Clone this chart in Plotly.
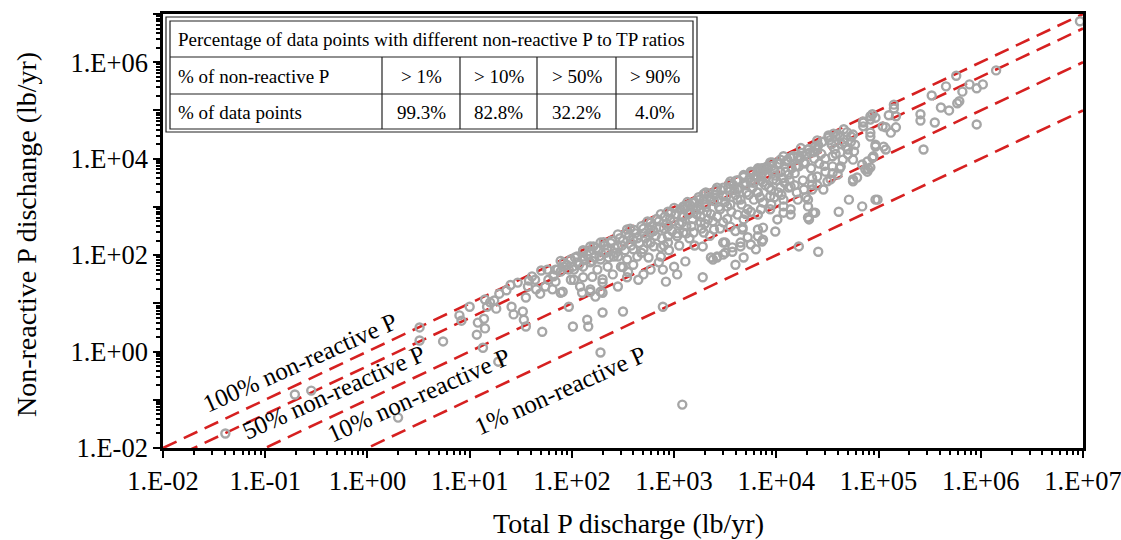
import plotly.graph_objects as go
import numpy as np

# ---------------- data (log10 of lb/yr) ----------------
log_total_p = [
    -1.39, -0.71, -0.55, 0.30, 0.51, 0.51, 0.74, 0.90, 0.92, 1.00, 1.08, 1.14, 1.07, 1.15, 1.13,
    1.15, 1.17, 1.20, 1.24, 1.26, 1.29, 1.36, 1.40, 1.47, 1.41, 1.43, 1.52, 1.53, 1.55, 1.55,
    1.57, 1.58, 1.64, 1.69, 1.71, 1.70, 1.76, 1.77, 1.81, 1.82, 1.89, 1.91, 1.28, 1.97, 2.01,
    2.01, 2.02, 2.05, 1.65, 1.61, 1.74,
    1.84, 1.89, 2.15, 2.16, 2.28, 2.30, 2.30, 2.50, 2.89, 3.08, 2.08, 2.10, 2.18, 2.23, 3.28,
    3.38, 3.42, 2.87, 2.92, 3.03, 2.65, 2.11, 2.21, 2.31, 2.54, 2.74, 2.94, 3.09, 3.31,
    4.94, 4.85, 4.92, 4.97, 4.75, 4.77, 4.66, 4.51, 4.58, 4.70, 4.75, 4.65, 4.55, 4.90, 4.84,
    4.79, 4.75, 4.71, 4.97, 4.84, 4.61, 4.38, 4.32, 4.41, 4.22, 3.99, 3.86, 3.80, 3.68, 3.60,
    3.36, 3.50, 3.57, 3.65, 3.50, 3.67, 3.82, 4.07, 4.14, 4.02, 4.12, 4.31, 4.29, 4.35, 4.50,
    4.48, 4.55, 4.40, 4.36, 4.31, 4.21, 4.12, 4.22, 3.96, 3.86, 3.83, 3.75,
    6.97, 6.15, 5.76, 5.66, 5.52, 5.61, 5.69, 5.77, 5.79, 5.82, 5.89, 5.96, 6.02, 5.96, 5.55,
    5.41, 5.41, 5.44, 5.15, 5.15, 5.10, 5.17, 5.12, 5.07, 4.97, 4.92, 4.85, 5.05, 5.07, 4.95,
    4.92, 4.89, 4.99, 4.92,
    3.42, 3.48, 3.57, 3.65, 3.72, 3.82, 3.87, 3.67, 3.75, 3.48, 3.28, 3.19, 2.89, 2.77, 2.45,
    2.28, 2.18, 1.84, 1.99, 2.11, 2.30, 2.54, 2.70, 3.00, 3.11, 4.01, 4.07, 4.14, 4.31, 4.36,
    4.31, 4.27, 4.35, 4.46, 4.53, 4.60, 4.63, 4.75, 4.87, 4.89, 4.94, 4.97, 5.04, 5.17, 4.92,
    4.85, 4.73, 4.66, 4.56, 4.51, 4.76, 4.70, 4.40, 4.33, 4.27, 4.19, 4.09, 4.14, 4.04, 3.91,
    3.84, 3.75, 3.85, 3.97, 4.04, 4.14, 4.21, 4.07, 3.94, 3.87, 3.78, 3.72, 3.82, 3.62, 3.52,
    3.48, 3.39, 3.33, 3.26, 3.16, 3.08, 3.03, 2.94, 2.87, 2.80, 2.70, 2.64, 2.54, 2.48, 2.41,
    2.35, 2.25, 2.18, 2.11, 2.02, 1.92, 1.86, 1.82,
    1.89, 2.11, 2.28, 2.45, 2.57, 2.87, 3.00, 3.13, 3.29, 3.42, 3.55, 3.68, 3.82, 3.94, 4.07,
    4.24, 4.40,
    2.45, 2.60, 2.77, 2.94, 3.09, 3.23, 3.36, 3.48, 3.62, 3.75, 3.87, 3.62, 3.26, 3.09, 2.94,
    2.77, 2.60, 2.45, 2.28, 2.11, 1.99, 2.18, 2.35, 3.29, 3.42, 3.55, 3.68, 3.82, 3.94, 3.87,
    1.95, 2.05, 2.15, 2.22, 2.26, 2.33, 2.38, 2.42, 2.50, 2.52, 2.56, 2.62, 2.66, 2.70, 2.72,
    2.78, 2.82, 2.85, 2.90, 2.96, 2.98, 3.02, 3.05, 3.10, 3.12, 3.15, 3.18, 3.20, 3.22, 3.25,
    3.27, 3.30, 3.32, 3.35, 3.38, 3.40, 3.44, 3.46, 3.50, 3.53, 3.56, 3.58, 3.60, 3.63, 3.66,
    3.69, 3.71, 3.74, 3.77, 3.80, 3.84, 3.86, 3.89, 3.92, 3.95, 3.98, 4.00, 4.03, 4.06, 4.10,
    4.13, 4.16, 4.18, 4.23, 4.26, 4.30, 4.34, 4.38, 4.42, 4.45, 4.48, 4.54, 4.58, 4.62, 4.68,
    2.40, 2.60, 2.75, 2.95, 3.05, 3.15, 3.35, 3.45, 3.60, 3.70, 3.85, 3.95, 4.05, 4.20, 4.40,
    4.55, 2.30, 2.55, 2.85, 3.20,
    1.92, 1.97, 2.03, 2.07, 2.12, 2.17, 2.20, 2.24, 2.27, 2.32, 2.36, 2.39, 2.43, 2.47, 2.49,
    2.53, 2.58, 2.61, 2.64, 2.68, 2.71, 2.74, 2.77, 2.80, 2.83, 2.86, 2.88, 2.91, 2.93, 2.97,
    3.00, 3.03, 3.06, 3.08, 3.11, 3.14, 3.17, 3.19, 3.21, 3.24, 3.26, 3.29, 3.31, 3.34, 3.36,
    3.39, 3.41, 3.43, 3.45, 3.48, 3.51, 3.54, 3.55, 3.59, 3.61, 3.64, 3.65, 3.68, 3.70, 3.73,
    3.76, 3.78, 3.81, 3.83, 3.85, 3.88, 3.90, 3.93, 3.96, 3.99, 4.01, 4.04, 4.08, 4.11, 4.15,
    4.17, 4.20, 4.25, 4.28, 4.32, 4.37, 4.41, 4.44, 4.47, 4.52, 4.57, 4.60, 4.64, 4.69, 4.73,
    2.20, 2.50, 2.68, 2.90, 3.12, 3.30, 3.52, 3.75, 3.98, 4.18, 4.35, 4.62,
]
log_nonreactive_p = [
    -1.70, -0.89, -0.81, -1.37, 0.50, 0.23, 0.21, 0.75, 0.64, 0.93, 0.60, 0.68, 0.35, 0.48, 0.08,
    1.08, 0.93, 1.02, 1.06, 0.89, 1.20, 1.27, 1.38, 1.43, 0.93, 0.77, 0.83, 0.66, 0.52, 1.12,
    1.35, 1.47, 1.49, 1.20, 0.41, 1.68, 1.70, 1.49, 1.29, 1.58, 1.66, 1.24, -0.21, 0.93, 0.52,
    1.76, 1.49, 1.97, 1.29, 1.56, 1.35,
    1.70, 1.22, 0.66, 0.52, -0.02, 0.81, 1.22, 0.83, 0.93, -1.10, 1.35, 1.22, 1.29, 1.14, 1.54,
    1.91, 1.95, 2.16, 1.45, 1.60, 1.49, 2.08, 2.18, 2.27, 2.53, 2.70, 2.90, 3.01, 3.30,
    4.92, 4.75, 4.54, 4.25, 4.50, 4.29, 4.61, 4.48, 4.46, 4.19, 3.98, 3.98, 4.05, 3.78, 3.88,
    3.61, 3.53, 3.15, 3.15, 3.01, 2.90, 2.88, 2.74, 2.07, 2.18, 2.49, 2.28, 2.12, 1.95, 1.80,
    1.95, 2.05, 2.16, 2.26, 2.26, 2.53, 2.53, 3.01, 2.84, 3.30, 3.40, 3.01, 3.20, 3.36, 3.53,
    3.73, 3.84, 3.63, 4.13, 4.19, 4.05, 3.67, 3.84, 3.92, 3.80, 3.78, 3.71,
    6.85, 5.83, 5.72, 5.50, 5.31, 5.06, 5.00, 5.15, 5.19, 5.39, 5.54, 5.46, 5.54, 4.71, 4.75,
    4.92, 4.79, 4.19, 5.12, 5.04, 4.90, 4.65, 4.54, 4.65, 4.85, 4.88, 4.77, 4.25, 4.19, 4.05,
    3.82, 3.73, 3.15, 4.46,
    1.97, 2.01, 2.07, 2.18, 2.37, 2.39, 2.57, 2.57, 2.22, 2.26, 2.18, 2.47, 1.70, 1.70, 1.35,
    1.24, 1.24, 1.45, 1.49, 1.54, 1.43, 1.54, 1.60, 1.76, 1.87, 2.74, 2.88, 2.95, 2.78, 2.88,
    3.15, 3.36, 3.46, 3.36, 3.57, 3.67, 3.84, 3.57, 3.78, 3.94, 4.02, 4.29, 4.67, 4.88, 4.81,
    4.67, 4.46, 4.34, 4.52, 4.44, 4.15, 4.09, 4.19, 4.13, 3.92, 3.84, 3.73, 4.02, 3.98, 3.84,
    3.79, 3.73, 3.63, 3.57, 3.40, 3.42, 3.15, 3.15, 3.22, 3.09, 3.15, 2.95, 2.84, 2.84, 3.01,
    2.68, 2.53, 2.74, 2.95, 2.88, 2.68, 2.39, 2.26, 1.97, 2.18, 2.12, 1.97, 1.91, 1.76, 1.97,
    1.76, 1.70, 1.85, 1.76, 1.70, 1.76, 1.70, 1.56,
    1.88, 2.10, 2.26, 2.43, 2.55, 2.85, 2.98, 3.10, 3.27, 3.40, 3.53, 3.66, 3.80, 3.92, 4.05,
    4.22, 4.38,
    2.18, 2.32, 2.47, 2.59, 2.80, 3.01, 3.15, 3.22, 3.36, 3.51, 3.51, 3.15, 2.68, 2.47, 2.39,
    2.26, 2.12, 1.97, 1.91, 1.97, 1.91, 2.18, 2.12, 2.47, 2.80, 2.59, 2.74, 3.30, 2.95, 2.32,
    1.80, 1.85, 2.00, 1.95, 2.10, 2.05, 2.25, 2.15, 2.30, 2.10, 2.40, 2.45, 2.25, 2.55, 2.35,
    2.60, 2.40, 2.70, 2.55, 2.75, 2.50, 2.85, 2.65, 2.95, 2.60, 3.05, 2.75, 3.10, 2.85, 3.15,
    2.55, 3.05, 2.90, 3.20, 2.70, 3.25, 3.00, 3.35, 3.10, 3.40, 2.90, 3.45, 3.25, 3.55, 3.05,
    3.50, 3.30, 3.60, 3.40, 3.65, 3.20, 3.70, 3.45, 3.80, 3.35, 3.75, 3.55, 3.90, 3.60, 3.95,
    3.55, 4.05, 3.70, 4.00, 3.55, 4.10, 3.80, 4.25, 3.90, 4.35, 4.00, 4.30, 4.10, 4.45, 4.25,
    1.60, 1.80, 1.95, 2.10, 2.20, 2.35, 2.40, 2.55, 2.50, 2.85, 2.95, 3.05, 3.25, 3.30, 3.45,
    3.70, 1.50, 1.65, 1.85, 2.20,
    1.85, 1.70, 1.95, 1.80, 1.90, 2.08, 1.88, 2.15, 1.98, 2.20, 1.95, 2.30, 2.05, 2.35, 2.20,
    2.45, 2.20, 2.52, 2.35, 2.60, 2.45, 2.25, 2.68, 2.50, 2.75, 2.58, 2.35, 2.80, 2.65, 2.88,
    2.70, 2.45, 2.95, 2.80, 3.02, 2.85, 2.60, 3.08, 2.95, 3.20, 2.80, 3.15, 3.00, 3.28, 2.85,
    3.12, 3.35, 3.15, 2.95, 3.40, 3.22, 3.48, 3.05, 3.35, 3.55, 3.40, 3.15, 3.62, 3.45, 3.25,
    3.70, 3.50, 3.30, 3.75, 3.55, 3.80, 3.62, 3.40, 3.85, 3.65, 3.90, 3.72, 3.50, 3.98, 3.80,
    4.05, 3.85, 4.12, 3.90, 4.20, 4.00, 4.28, 4.10, 3.85, 4.38, 4.20, 4.50, 4.30, 4.55, 4.35,
    1.55, 1.75, 2.05, 2.20, 2.45, 2.65, 2.75, 2.90, 3.20, 3.45, 3.60, 3.80,
]

ratios = [1.0, 0.5, 0.1, 0.01]            # non-reactive P / TP reference lines
line_x = [1e-2, 1e7]

x_tick_vals = [1e-2, 1e-1, 1e0, 1e1, 1e2, 1e3, 1e4, 1e5, 1e6, 1e7]
x_tick_text = ["1.E-02", "1.E-01", "1.E+00", "1.E+01", "1.E+02", "1.E+03",
               "1.E+04", "1.E+05", "1.E+06", "1.E+07"]
y_tick_vals = [1e-2, 1e-1, 1e0, 1e1, 1e2, 1e3, 1e4, 1e5, 1e6, 1e7]
y_tick_text = ["1.E-02", "", "1.E+00", "", "1.E+02", "", "1.E+04", "", "1.E+06", ""]

table_header = "Percentage of data points with different non-reactive P to TP ratios"
table_row1 = ["% of non-reactive P", "> 1%", "> 10%", "> 50%", "> 90%"]
table_row2 = ["% of data points", "99.3%", "82.8%", "32.2%", "4.0%"]
line_labels = ["100% non-reactive P", "50% non-reactive P", "10% non-reactive P", "1% non-reactive P"]

total_p = np.power(10.0, np.array(log_total_p))
nonreactive_p = np.power(10.0, np.array(log_nonreactive_p))

FONT = "Liberation Serif"
RED = "#D62020"
GREY = "#A6A6A6"

fig = go.Figure()
for r in ratios:
    fig.add_trace(go.Scatter(
        x=line_x, y=[r * v for v in line_x], mode="lines",
        line=dict(color=RED, width=2.6, dash="15px,8px"),
        hoverinfo="skip", showlegend=False))

fig.add_trace(go.Scatter(
    x=total_p, y=nonreactive_p, mode="markers",
    marker=dict(symbol="circle-open", size=8, color=GREY, line=dict(width=2.4, color=GREY)),
    showlegend=False))

minor_vals = [m * 10.0 ** e for e in range(-2, 7) for m in range(2, 10)]

axis_common = dict(
    type="log", range=[-2, 7], showgrid=False, zeroline=False,
    showline=True, linecolor="black", linewidth=2.5, mirror=True,
    ticks="outside", ticklen=7, tickwidth=2, tickcolor="black",
    tickfont=dict(family=FONT, size=26.5, color="black"),
    tickmode="array", ticklabeloverflow="allow", automargin=False,
    minor=dict(tickmode="array", tickvals=minor_vals, ticks="outside",
               ticklen=4, tickwidth=1.5, tickcolor="black", showgrid=False),
)
fig.update_xaxes(**axis_common, tickvals=x_tick_vals, ticktext=x_tick_text)
fig.update_yaxes(**axis_common, tickvals=y_tick_vals, ticktext=y_tick_text)

# plot-area geometry (pixels) used for placing table/labels in domain coords
L, R, T, B = 163, 1083, 14, 448
def dx(px):
    return (px - L) / (R - L)
def dy(py):
    return (B - py) / (B - T)

shapes = []
def hline(x0, x1, y, w=1.2):
    shapes.append(dict(type="line", xref="x domain", yref="y domain",
                       x0=dx(x0), x1=dx(x1), y0=dy(y), y1=dy(y),
                       line=dict(color="#222", width=w)))
def vline(x, y0, y1, w=1.2):
    shapes.append(dict(type="line", xref="x domain", yref="y domain",
                       x0=dx(x), x1=dx(x), y0=dy(y0), y1=dy(y1),
                       line=dict(color="#222", width=w)))

tl, tr, tt, tb = 170, 693, 21, 129
row_lines = [57, 94]
col_lines = [382, 460, 537, 616]
shapes.append(dict(type="rect", xref="x domain", yref="y domain",
                   x0=dx(tl), x1=dx(tr), y0=dy(tb), y1=dy(tt),
                   line=dict(color="#222", width=1.2), fillcolor="white", layer="above"))
shapes.append(dict(type="rect", xref="x domain", yref="y domain",
                   x0=dx(tl - 4), x1=dx(tr + 4), y0=dy(tb + 3), y1=dy(tt - 4),
                   line=dict(color="#222", width=1.2), fillcolor="rgba(0,0,0,0)", layer="above"))
for yy in row_lines:
    hline(tl, tr, yy)
for xx in col_lines:
    vline(xx, row_lines[0], tb)

annotations = []
def txt(s, px, py, anchor="center", size=19, angle=0):
    annotations.append(dict(text=s, xref="x domain", yref="y domain",
                            x=dx(px), y=dy(py), xanchor=anchor, yanchor="middle",
                            showarrow=False, textangle=angle,
                            font=dict(family=FONT, size=size, color="black")))

txt(table_header, (tl + tr) / 2, 39)
col_centers = [(col_lines[i] + (col_lines[i + 1] if i + 1 < len(col_lines) else tr)) / 2
               for i in range(len(col_lines))]
txt(table_row1[0], 176, 76, anchor="left")
txt(table_row2[0], 176, 112, anchor="left")
for i, c in enumerate(col_centers):
    txt(table_row1[i + 1], c, 76)
    txt(table_row2[i + 1], c, 112)

label_pos = [(300, 362), (333, 392), (418, 395), (560, 390)]
for s, (px, py) in zip(line_labels, label_pos):
    txt(s, px, py, size=25, angle=-24)

# axis titles
annotations.append(dict(text="Non-reactive P dischange (lb/yr)", xref="paper", yref="paper",
                        x=dx(27), y=dy(235), xanchor="center", yanchor="middle",
                        textangle=-90, showarrow=False,
                        font=dict(family=FONT, size=28, color="black")))
annotations.append(dict(text="Total P discharge (lb/yr)", xref="paper", yref="paper",
                        x=dx(628), y=dy(523), xanchor="center", yanchor="middle",
                        showarrow=False, font=dict(family=FONT, size=28, color="black")))

fig.update_layout(
    width=1121, height=540,
    margin=dict(l=L, r=1121 - R, t=T, b=540 - B, autoexpand=False),
    paper_bgcolor="white", plot_bgcolor="white",
    shapes=shapes, annotations=annotations, showlegend=False,
)

fig.write_html("out.html")
